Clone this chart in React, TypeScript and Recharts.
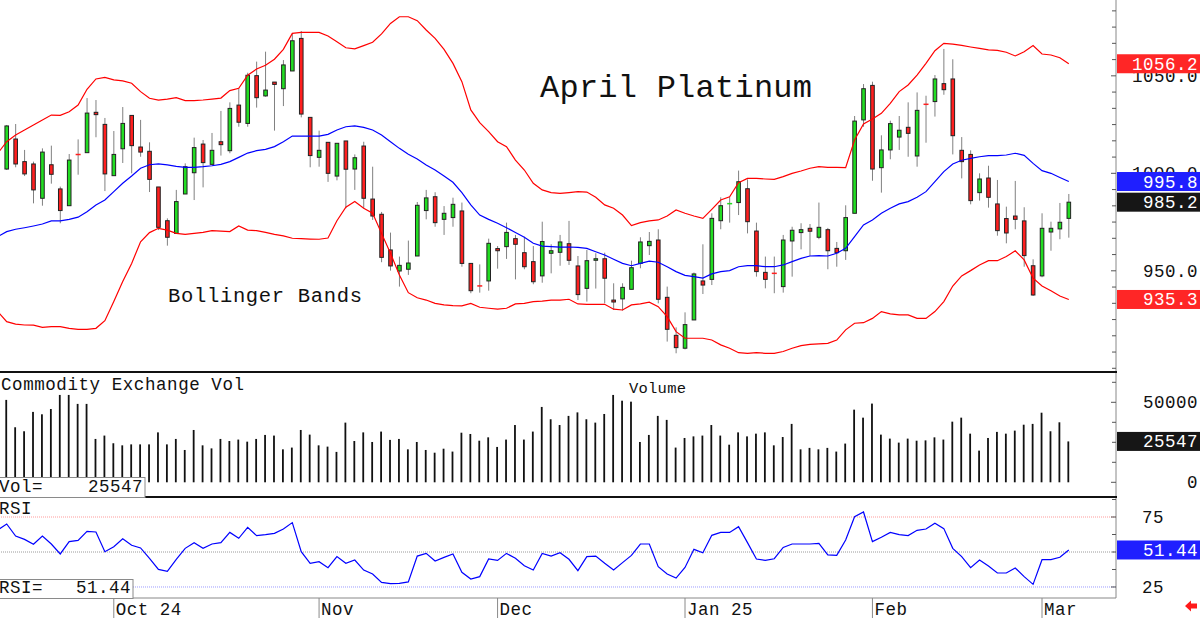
import React from 'react';
import { ComposedChart, Bar, Line, XAxis, YAxis, ReferenceLine } from 'recharts';

// ---------- DATA ----------
const OPEN = [
  1002.2, 1017.6, 1006.0, 1004.8, 987.2, 1004.4, 992.0, 983.4, 1009.9, 1010.6,
  1031.3, 1025.1, 998.8, 1012.6, 1029.7, 1013.5, 1011.3, 993.0, 975.7, 969.2,
  989.4, 1000.3, 1015.0, 1004.6, 1016.2, 1011.6, 1035.0, 1025.6, 1050.1, 1039.7,
  1046.8, 1043.4, 1052.5, 1069.2, 1028.7, 1008.2, 1015.9, 998.6, 1016.6, 1002.2,
  1014.0, 986.8, 979.0, 960.7, 949.9, 950.8, 957.6, 980.9, 988.0, 976.4,
  977.3, 980.7, 953.8, 942.4, 944.8, 961.4, 962.4, 966.5, 959.3, 954.7,
  947.4, 959.0, 959.5, 963.9, 952.5, 941.0, 955.4, 956.2, 935.0, 935.6,
  940.5, 953.8, 962.9, 965.8, 936.4, 916.9, 910.3, 924.8, 944.8, 945.6,
  975.7, 984.3, 985.0, 992.1, 970.4, 949.2, 948.9, 941.9, 965.3, 969.6,
  971.8, 967.2, 971.1, 961.5, 960.3, 979.5, 1027.4, 1045.1, 1002.9, 1012.0,
  1018.6, 1023.6, 1008.9, 1035.6, 1036.8, 1046.0, 1048.4, 1011.8, 1009.7, 990.1,
  997.6, 984.3, 976.8, 978.1, 975.6, 952.6, 947.4, 969.9, 971.5, 976.9,
];
const HIGH = [
  1024.8, 1025.3, 1012.0, 1006.0, 1012.8, 1014.2, 993.2, 1009.9, 1017.4, 1038.6,
  1037.6, 1028.4, 1021.7, 1034.0, 1029.7, 1027.4, 1015.9, 993.0, 976.9, 991.5,
  1005.1, 1018.3, 1017.1, 1020.7, 1032.0, 1036.4, 1043.6, 1051.6, 1057.3, 1062.4,
  1046.8, 1058.1, 1071.5, 1073.0, 1028.7, 1021.9, 1015.9, 1015.4, 1016.6, 1009.7,
  1016.2, 1003.4, 980.2, 969.6, 957.3, 965.5, 985.3, 991.5, 990.3, 983.2,
  987.5, 985.0, 953.8, 953.3, 966.5, 962.7, 974.7, 968.4, 967.5, 962.7,
  975.2, 963.6, 968.4, 975.6, 957.6, 960.7, 959.0, 959.3, 943.6, 943.6,
  955.2, 967.2, 969.9, 971.3, 941.9, 921.0, 928.7, 949.1, 963.6, 979.5,
  987.7, 988.0, 1001.4, 996.9, 974.7, 957.3, 957.3, 968.4, 972.6, 974.4,
  974.0, 985.0, 972.0, 964.8, 983.6, 1029.4, 1045.8, 1047.0, 1019.5, 1027.0,
  1029.4, 1036.4, 1041.5, 1039.8, 1050.4, 1063.8, 1058.5, 1018.6, 1011.8, 1000.0,
  1003.9, 996.6, 982.9, 996.1, 982.6, 955.9, 979.5, 975.2, 984.8, 989.4,
];
const LOW = [
  1001.7, 1003.1, 998.6, 984.6, 983.4, 994.7, 974.4, 983.4, 999.3, 1010.6,
  1018.5, 990.9, 998.8, 1005.3, 1000.0, 1008.5, 990.4, 970.9, 962.9, 969.2,
  989.4, 986.3, 992.8, 1004.6, 1009.1, 1010.3, 1023.9, 1023.9, 1033.7, 1039.3,
  1021.9, 1034.5, 1052.5, 1028.7, 1003.1, 1003.4, 995.6, 996.4, 982.1, 991.5,
  982.1, 976.1, 954.4, 950.1, 941.9, 947.9, 957.6, 976.4, 972.6, 968.4,
  972.6, 952.1, 938.5, 938.8, 939.8, 951.1, 956.1, 945.6, 950.8, 943.1,
  943.9, 948.7, 952.6, 953.0, 935.0, 934.2, 940.9, 933.3, 929.9, 929.6,
  940.5, 951.3, 958.1, 933.3, 913.7, 907.7, 909.7, 924.8, 938.1, 942.7,
  971.3, 974.7, 978.6, 969.2, 947.0, 941.0, 938.5, 938.8, 947.0, 961.0,
  957.6, 966.2, 950.8, 952.1, 955.6, 979.5, 1023.9, 996.2, 990.1, 1007.2,
  1012.0, 1008.5, 1003.4, 1015.7, 1029.1, 1040.3, 1009.7, 997.4, 984.1, 986.0,
  982.4, 968.0, 964.1, 971.3, 952.1, 937.1, 946.7, 960.3, 966.2, 967.0,
];
const CLOSE = [
  1024.3, 1004.8, 999.7, 991.5, 1010.9, 999.5, 980.9, 1006.8, 1009.4, 1030.9,
  1030.1, 999.7, 1009.7, 1025.6, 1014.2, 1010.9, 996.9, 972.3, 967.2, 985.5,
  1003.4, 1013.2, 1005.5, 1011.8, 1014.7, 1033.3, 1026.2, 1050.3, 1038.8, 1042.7,
  1045.6, 1055.6, 1068.0, 1030.4, 1009.1, 1011.8, 1000.0, 1015.4, 1002.1, 1008.0,
  987.2, 978.1, 956.9, 952.5, 952.8, 954.0, 983.6, 987.4, 974.7, 979.5,
  984.1, 953.8, 939.8, 942.1, 964.1, 960.3, 969.7, 963.6, 952.1, 944.4,
  965.0, 960.3, 964.8, 955.4, 937.8, 955.2, 956.2, 946.2, 934.0, 941.5,
  951.6, 964.8, 965.1, 935.4, 920.0, 910.6, 922.4, 948.4, 942.7, 976.9,
  983.4, 984.6, 995.7, 975.2, 949.6, 945.6, 948.5, 965.8, 970.8, 971.1,
  970.3, 972.3, 960.3, 959.3, 977.3, 1026.8, 1043.4, 1002.2, 1012.0, 1025.5,
  1022.1, 1020.5, 1032.3, 1035.2, 1048.4, 1042.9, 1019.3, 1006.0, 986.0, 997.1,
  987.7, 970.6, 969.4, 976.4, 957.8, 937.6, 971.8, 971.8, 974.9, 985.2,
];
const VOLUME = [
  51500, 34400, 31900, 44000, 42500, 45800, 54600, 54600, 49000, 49000,
  27100, 29200, 24400, 23100, 23700, 23700, 23700, 31200, 23700, 27100,
  20200, 32700, 23100, 21200, 27100, 25800, 26700, 25400, 27100, 29600,
  29200, 20600, 21700, 32700, 29800, 23100, 22300, 19000, 37300, 25800,
  31200, 25200, 31700, 26500, 27100, 20600, 25200, 20200, 18500, 21000,
  19200, 31000, 30200, 26000, 28100, 22100, 26700, 35800, 26700, 31700,
  47100, 39400, 35800, 41500, 43700, 39400, 37300, 42700, 54600, 51000,
  50400, 25200, 29600, 41500, 39000, 21700, 27700, 28700, 29200, 35800,
  29200, 23500, 31200, 28700, 30400, 31200, 23100, 28300, 36500, 20600,
  21500, 20600, 21500, 19200, 24200, 45400, 40400, 49200, 29800, 27300,
  24800, 27300, 26000, 26200, 28100, 26700, 37900, 40400, 30400, 19800,
  27700, 31500, 30400, 32300, 36000, 36500, 43500, 31900, 37500, 25547,
];
// Bollinger bands and RSI begin one session before the first visible candle
const LEAD_START = -1;
const BB_UPPER = [
  1010.3, 1016.2, 1019.7, 1022.2, 1024.8, 1027.4, 1029.9, 1029.7, 1031.6, 1035.0, 1043.1,
  1048.4, 1049.2, 1047.9, 1047.4, 1046.2, 1041.9, 1038.5, 1037.6, 1038.1, 1038.8,
  1037.3, 1037.3, 1037.6, 1038.1, 1038.6, 1042.4, 1043.6, 1050.3, 1053.5, 1055.4,
  1058.5, 1063.6, 1071.8, 1072.3, 1072.3, 1072.3, 1070.4, 1067.5, 1064.4, 1063.8,
  1065.5, 1067.2, 1071.5, 1076.9, 1080.3, 1080.3, 1078.3, 1073.5, 1069.2, 1063.6,
  1056.4, 1047.0, 1032.5, 1026.0, 1021.4, 1016.2, 1013.7, 1006.8, 1001.7, 994.9,
  991.5, 990.1, 989.7, 990.1, 990.6, 990.4, 987.7, 983.8, 982.1, 978.6,
  973.2, 974.7, 975.6, 976.1, 978.1, 981.2, 979.5, 978.1, 976.9, 981.5,
  986.3, 988.0, 995.2, 997.4, 997.4, 997.1, 996.9, 998.3, 1000.0, 1001.2,
  1002.6, 1003.4, 1003.1, 1003.1, 1002.9, 1017.1, 1025.3, 1027.9, 1030.8, 1035.9,
  1041.9, 1045.3, 1050.4, 1056.4, 1062.9, 1066.7, 1066.3, 1065.6, 1064.8, 1064.1,
  1063.3, 1063.1, 1062.1, 1060.2, 1062.4, 1065.5, 1061.2, 1060.7, 1059.3, 1056.2,
];
const BB_MID = [
  967.5, 970.1, 971.3, 972.1, 973.0, 974.0, 975.6, 975.6, 976.4, 977.5, 980.3,
  983.8, 986.3, 990.6, 994.9, 998.6, 1002.6, 1004.4, 1004.8, 1004.3, 1003.6,
  1003.1, 1003.1, 1003.4, 1003.9, 1004.6, 1006.0, 1008.2, 1010.4, 1011.6, 1012.3,
  1013.7, 1016.2, 1019.1, 1019.1, 1019.1, 1019.1, 1020.0, 1022.2, 1023.9, 1024.3,
  1023.6, 1022.2, 1019.7, 1016.2, 1012.8, 1009.8, 1007.4, 1004.3, 1001.7, 998.6,
  995.4, 990.1, 983.8, 978.6, 976.4, 974.4, 972.1, 969.6, 967.2, 964.1,
  962.7, 962.4, 962.2, 962.2, 962.0, 961.5, 959.8, 958.1, 955.9, 953.8,
  952.6, 953.8, 955.0, 954.4, 952.1, 949.6, 947.7, 947.0, 946.3, 948.4,
  949.6, 950.1, 952.1, 952.7, 952.7, 952.1, 952.1, 953.0, 954.7, 956.4,
  957.6, 957.8, 957.6, 959.0, 961.5, 967.5, 973.5, 976.1, 979.5, 982.1,
  984.3, 985.5, 987.7, 990.6, 995.7, 1000.9, 1004.8, 1006.7, 1007.7, 1008.5,
  1009.1, 1009.1, 1009.4, 1010.3, 1009.2, 1005.1, 1001.4, 1000.0, 997.9, 995.8,
];
const BB_LOWER = [
  929.1, 923.9, 922.7, 922.2, 922.1, 921.0, 921.4, 921.4, 920.5, 920.0, 920.0,
  920.5, 924.4, 934.2, 944.5, 953.8, 964.9, 969.6, 971.8, 970.9, 969.2,
  968.7, 969.2, 969.7, 970.6, 970.4, 970.1, 973.0, 970.9, 970.6, 969.7,
  968.7, 967.9, 966.7, 966.5, 966.3, 966.2, 966.8, 975.7, 982.6, 985.5,
  982.1, 979.5, 969.2, 959.0, 947.9, 938.8, 936.2, 935.0, 933.3, 932.5,
  932.1, 932.0, 933.3, 931.3, 930.8, 930.4, 930.8, 933.0, 933.3, 934.2,
  934.5, 935.0, 935.0, 935.4, 933.0, 932.8, 932.8, 932.8, 930.3, 929.9,
  932.5, 933.0, 933.9, 931.6, 926.5, 918.8, 915.4, 915.4, 915.4, 914.5,
  912.0, 910.3, 908.0, 907.7, 908.0, 907.7, 907.7, 908.6, 910.3, 911.6,
  912.3, 912.5, 912.8, 914.5, 919.7, 923.1, 923.4, 925.6, 929.1, 927.9,
  927.4, 927.4, 925.6, 925.6, 929.1, 934.2, 942.2, 947.4, 950.1, 953.0,
  955.2, 955.2, 957.3, 960.3, 955.6, 946.2, 942.2, 939.8, 937.1, 935.3,
];
const RSI = [
  65.7, 70.0, 61.4, 59.0, 55.5, 61.4, 55.7, 48.6, 57.4, 58.3, 64.8,
  64.3, 50.2, 53.8, 59.5, 54.8, 52.9, 45.5, 37.6, 36.2, 44.8,
  52.6, 56.7, 52.6, 55.7, 56.7, 64.0, 59.8, 67.6, 61.7, 62.4,
  63.3, 66.4, 71.0, 50.2, 41.9, 43.1, 38.8, 46.7, 41.9, 44.3,
  37.1, 34.3, 28.3, 27.4, 27.6, 28.6, 47.1, 49.0, 43.6, 46.2,
  48.6, 35.5, 30.7, 32.4, 45.0, 44.0, 49.0, 45.5, 40.2, 37.1,
  49.0, 47.1, 49.5, 44.8, 36.7, 46.7, 47.1, 41.9, 37.1, 42.4,
  47.6, 55.7, 55.7, 39.5, 34.3, 31.4, 39.0, 51.9, 49.5, 61.9,
  64.0, 64.0, 68.1, 56.7, 45.0, 44.0, 45.2, 53.3, 55.7, 55.7,
  55.7, 56.2, 47.9, 47.6, 58.6, 75.2, 78.6, 57.4, 60.5, 64.0,
  62.4, 61.7, 65.5, 66.4, 70.5, 66.7, 52.6, 46.7, 38.8, 44.3,
  40.0, 35.0, 35.0, 38.6, 32.4, 26.9, 44.5, 44.5, 46.2, 51.44,
];

const MONTH_TICKS = [12, 35, 55, 76, 97, 116];
const MONTH_LABELS = ['Oct 24', 'Nov', 'Dec', 'Jan 25', 'Feb', 'Mar'];
const PRICE_LABELS = [950, 1000, 1050];
const PRICE_MINOR = [
  900, 908.33, 916.67, 925, 933.33, 941.67, 958.33, 966.67, 975, 983.33, 991.67,
  1008.33, 1016.67, 1025, 1033.33, 1041.67, 1058.33, 1066.67, 1075, 1083.33,
];
const VOL_LABELS = [0, 50000];
const VOL_MINOR = [12500, 25000, 37500, 62500];
const RSI_LABELS = [25, 75];
const RSI_MINOR = [37.5, 50, 62.5, 87.5];

// ---------- layout / style ----------
const X_DOMAIN: [number, number] = [-0.75, 124.29];
const PRICE_DOMAIN: [number, number] = [898.1, 1088.9];
const VOL_DOMAIN: [number, number] = [-9190, 68940];
const RSI_DOMAIN: [number, number] = [17.14, 89.29];
const MONO = "'Liberation Mono', 'DejaVu Sans Mono', monospace";
const LBL: React.CSSProperties = { fontFamily: MONO, fontSize: 17.5, letterSpacing: 0.5 };
const GREEN = '#22dd22';
const RED = '#ff1f1f';
const BAND_RED = '#ff0000';
const BLUE = '#0000ff';

const lastUpper = BB_UPPER[BB_UPPER.length - 1];
const lastMid = BB_MID[BB_MID.length - 1];
const lastLower = BB_LOWER[BB_LOWER.length - 1];
const lastClose = CLOSE[CLOSE.length - 1];
const lastVol = VOLUME[VOLUME.length - 1];
const lastRsi = RSI[RSI.length - 1];

const PRICE_BOXES = [
  { value: lastLower, color: '#ff2626' },
  { value: lastMid, color: '#1f1fff' },
  { value: lastClose, color: '#161616' },
  { value: lastUpper, color: '#ff2626' },
];

const rows = BB_UPPER.map((_, k) => {
  const i = LEAD_START + k;
  const has = i >= 0;
  return {
    i,
    range: has ? [LOW[i], HIGH[i]] : null,
    open: has ? OPEN[i] : null,
    high: has ? HIGH[i] : null,
    low: has ? LOW[i] : null,
    close: has ? CLOSE[i] : null,
    vol: has ? VOLUME[i] : null,
    upper: BB_UPPER[k],
    mid: BB_MID[k],
    lower: BB_LOWER[k],
    rsi: RSI[k],
  };
});

// ---------- shapes ----------
const Candle = (props: any) => {
  const { x, y, width, height, payload } = props;
  if (!payload || payload.open == null || !isFinite(y) || !isFinite(height)) return null;
  const { open, close, high, low } = payload;
  const top = Math.min(y, y + height);
  const bot = Math.max(y, y + height);
  const span = high - low;
  const toY = (v: number) => (span === 0 ? top : top + ((high - v) / span) * (bot - top));
  const cx = x + width / 2;
  const up = close >= open;
  const yO = toY(open);
  const yC = toY(close);
  const bTop = Math.min(yO, yC);
  const bBot = Math.max(yO, yC);
  const fill = up ? GREEN : RED;
  return (
    <g>
      <line x1={cx} x2={cx} y1={top} y2={bot} stroke="#808080" strokeWidth={1} />
      {bBot - bTop < 1.5 ? (
        <line x1={cx - 2.5} x2={cx + 2.5} y1={(bTop + bBot) / 2} y2={(bTop + bBot) / 2} stroke={fill} strokeWidth={1.5} />
      ) : (
        <rect x={cx - 1.8} y={bTop} width={3.6} height={bBot - bTop} fill={fill} stroke="#222" strokeWidth={1} />
      )}
    </g>
  );
};

const VolBar = (props: any) => {
  const { x, y, width, height, payload } = props;
  if (!payload || payload.vol == null || !isFinite(y) || !isFinite(height)) return null;
  const cx = x + width / 2;
  return <rect x={cx - 0.9} y={Math.min(y, y + height)} width={1.8} height={Math.abs(height)} fill="#111" />;
};

// ---------- ticks ----------
const ValueBox = ({ x, y, color, text }: any) => (
  <g>
    <rect x={x + 1} y={y - 9.5} width={84} height={19} fill={color} />
    <text x={x + 82} y={y + 6} textAnchor="end" fill="#fff" style={LBL}>{text}</text>
  </g>
);

const PriceTick = (props: any) => {
  const { x, y, payload } = props;
  const v = payload.value;
  const box = PRICE_BOXES.find((b) => b.value === v);
  if (box) return <ValueBox x={x} y={y} color={box.color} text={v.toFixed(1)} />;
  if (PRICE_LABELS.includes(v))
    return (
      <g>
        <line x1={x - 5} x2={x} y1={y} y2={y} stroke="#555" />
        <text x={x + 82} y={y + 6} textAnchor="end" fill="#111" style={LBL}>{v.toFixed(1)}</text>
      </g>
    );
  return <line x1={x - 4} x2={x} y1={y} y2={y} stroke="#555" />;
};

const VolTick = (props: any) => {
  const { x, y, payload } = props;
  const v = payload.value;
  if (v === lastVol) return <ValueBox x={x} y={y} color="#161616" text={String(v)} />;
  if (VOL_LABELS.includes(v))
    return (
      <g>
        <line x1={x - 5} x2={x} y1={y} y2={y} stroke="#555" />
        <text x={x + 82} y={y + 6} textAnchor="end" fill="#111" style={LBL}>{String(v)}</text>
      </g>
    );
  return <line x1={x - 4} x2={x} y1={y} y2={y} stroke="#555" />;
};

const RsiTick = (props: any) => {
  const { x, y, payload } = props;
  const v = payload.value;
  if (v === lastRsi) return <ValueBox x={x} y={y} color="#1f1fff" text={v.toFixed(2)} />;
  if (RSI_LABELS.includes(v))
    return (
      <g>
        <line x1={x - 5} x2={x} y1={y} y2={y} stroke="#555" />
        <text x={x + 26} y={y + 6} textAnchor="start" fill="#111" style={LBL}>{String(v)}</text>
      </g>
    );
  return <line x1={x - 4} x2={x} y1={y} y2={y} stroke="#555" />;
};

const DateTick = (props: any) => {
  const { x, y, payload } = props;
  const idx = MONTH_TICKS.indexOf(payload.value);
  return (
    <g>
      <line x1={x} x2={x} y1={y} y2={y + 22} stroke="#8a8a8a" />
      <text x={x + 2} y={y + 17} fill="#111" style={LBL}>{MONTH_LABELS[idx]}</text>
    </g>
  );
};

const M = { top: 0, right: 0, bottom: 0, left: 0 };

export default function App() {
  return (
    <div style={{ position: 'absolute', left: 0, top: 0, width: 1200, height: 618, background: '#fff', overflow: 'hidden' }}>
      {/* Price panel */}
      <div style={{ position: 'absolute', left: 0, top: 0 }}>
        <ComposedChart width={1200} height={372} data={rows} margin={M}>
          <XAxis dataKey="i" type="number" domain={X_DOMAIN} allowDataOverflow hide />
          <YAxis
            orientation="right"
            width={84}
            domain={PRICE_DOMAIN}
            allowDataOverflow
            ticks={[...PRICE_MINOR, ...PRICE_LABELS, ...PRICE_BOXES.map((b) => b.value)]}
            interval={0}
            tick={<PriceTick />}
            tickLine={false}
            tickSize={0}
            tickMargin={0}
            axisLine={{ stroke: '#888' }}
          />
          <Line dataKey="upper" stroke={BAND_RED} strokeWidth={1.2} dot={false} isAnimationActive={false} />
          <Line dataKey="lower" stroke={BAND_RED} strokeWidth={1.2} dot={false} isAnimationActive={false} />
          <Line dataKey="mid" stroke={BLUE} strokeWidth={1.2} dot={false} isAnimationActive={false} />
          <Bar dataKey="range" barSize={5} shape={<Candle />} isAnimationActive={false} />
        </ComposedChart>
      </div>
      {/* Volume panel */}
      <div style={{ position: 'absolute', left: 0, top: 372 }}>
        <ComposedChart width={1200} height={125} data={rows} margin={M}>
          <XAxis dataKey="i" type="number" domain={X_DOMAIN} allowDataOverflow hide />
          <YAxis
            orientation="right"
            width={84}
            domain={VOL_DOMAIN}
            allowDataOverflow
            ticks={[...VOL_MINOR, ...VOL_LABELS, lastVol]}
            interval={0}
            tick={<VolTick />}
            tickLine={false}
            tickSize={0}
            tickMargin={0}
            axisLine={{ stroke: '#888' }}
          />
          <Bar dataKey="vol" barSize={2} shape={<VolBar />} isAnimationActive={false} />
        </ComposedChart>
      </div>
      {/* RSI panel */}
      <div style={{ position: 'absolute', left: 0, top: 497 }}>
        <ComposedChart width={1200} height={121} data={rows} margin={M}>
          <XAxis
            dataKey="i"
            type="number"
            domain={X_DOMAIN}
            allowDataOverflow
            ticks={MONTH_TICKS}
            interval={0}
            tick={<DateTick />}
            tickLine={false}
            tickSize={0}
            tickMargin={0}
            height={20}
            axisLine={{ stroke: '#888' }}
          />
          <YAxis
            orientation="right"
            width={84}
            domain={RSI_DOMAIN}
            allowDataOverflow
            ticks={[...RSI_MINOR, ...RSI_LABELS, lastRsi]}
            interval={0}
            tick={<RsiTick />}
            tickLine={false}
            tickSize={0}
            tickMargin={0}
            axisLine={{ stroke: '#888' }}
          />
          <ReferenceLine y={75} stroke="#ff9a9a" strokeDasharray="1 1" />
          <ReferenceLine y={50} stroke="#9a9a9a" strokeDasharray="1 1" />
          <ReferenceLine y={25} stroke="#9a9aff" strokeDasharray="1 1" />
          <Line dataKey="rsi" stroke={BLUE} strokeWidth={1.2} dot={false} isAnimationActive={false} />
        </ComposedChart>
      </div>
      {/* Titles, panel separators and value boxes */}
      <svg width={1200} height={618} style={{ position: 'absolute', left: 0, top: 0, pointerEvents: 'none' }}>
        <line x1={0} x2={1117} y1={372} y2={372} stroke="#111" strokeWidth={2} />
        <line x1={0} x2={1117} y1={497} y2={497} stroke="#111" strokeWidth={2} />
        <text x={540} y={97} textLength={272} lengthAdjust="spacing" fill="#111" style={{ fontFamily: MONO, fontSize: 32 }}>April Platinum</text>
        <text x={168} y={302} textLength={194} lengthAdjust="spacing" fill="#111" style={{ fontFamily: MONO, fontSize: 20.5 }}>Bollinger Bands</text>
        <text x={1} y={390} textLength={243} lengthAdjust="spacing" fill="#111" style={{ fontFamily: MONO, fontSize: 17.5 }}>Commodity Exchange Vol</text>
        <text x={629} y={393} textLength={57} lengthAdjust="spacing" fill="#111" style={{ fontFamily: MONO, fontSize: 15.5 }}>Volume</text>
        <rect x={-1} y={477.5} width={146} height={20} fill="#fff" stroke="#8a8a8a" />
        <text x={-1} y={492} fill="#111" style={LBL}>Vol=</text>
        <text x={143} y={492} textAnchor="end" fill="#111" style={LBL}>{String(lastVol)}</text>
        <rect x={-1} y={499} width={35} height={17} fill="#fff" />
        <text x={-1} y={514} fill="#111" style={LBL}>RSI</text>
        <rect x={-1} y={579.5} width={134} height={19} fill="#fff" stroke="#8a8a8a" />
        <text x={-1} y={593} fill="#111" style={LBL}>RSI=</text>
        <text x={131} y={593} textAnchor="end" fill="#111" style={LBL}>{lastRsi.toFixed(2)}</text>
        <polygon points="1185,606 1191,600.5 1191,603.5 1197,603.5 1197,608.5 1191,608.5 1191,611.5" fill="#ff1a1a" />
      </svg>
    </div>
  );
}
